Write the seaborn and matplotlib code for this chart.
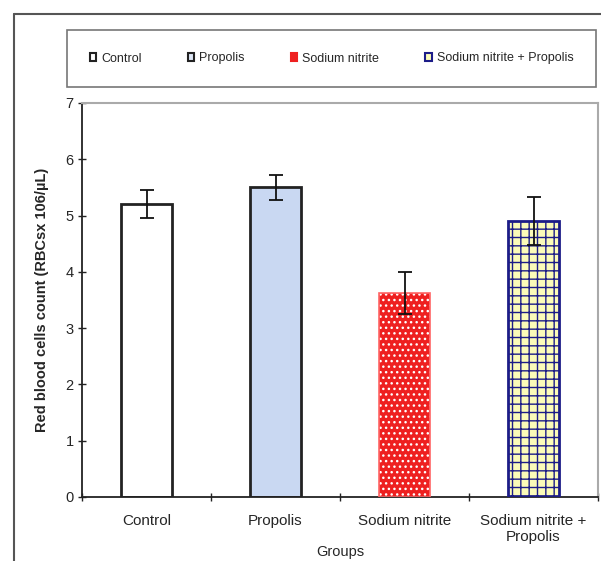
import matplotlib
matplotlib.use("Agg")
import matplotlib.pyplot as plt
import seaborn as sns
import numpy as np
import pandas as pd
from matplotlib.patches import Patch
from matplotlib.lines import Line2D

groups = ["Control", "Propolis", "Sodium nitrite", "Sodium nitrite +\nPropolis"]
legend_labels = ["Control", "Propolis", "Sodium nitrite", "Sodium nitrite + Propolis"]
values = [5.2, 5.5, 3.63, 4.9]
errors = [0.25, 0.22, 0.37, 0.43]
yticks = [0, 1, 2, 3, 4, 5, 6, 7]

face_colors = ["#ffffff", "#c9d8f2", "#ee2020", "#fbfbb8"]
edge_colors = ["#222222", "#222222", "#ff6666", "#1c1c88"]
hatches = [None, None, "...", "++"]
hatch_colors = [None, None, "#ffffff", "#1c1c88"]

sns.set_theme(style="white")
plt.rcParams["font.family"] = ["Liberation Sans", "DejaVu Sans"]
plt.rcParams["hatch.linewidth"] = 1.0

fig = plt.figure(figsize=(6.01, 5.61), dpi=100)
ax = fig.add_axes([82/601, 1-497/561, (598-82)/601, (497-103)/561])

df = pd.DataFrame({"group": groups, "value": values})
sns.barplot(data=df, x="group", y="value", ax=ax, width=0.4, errorbar=None,
            color="white", saturation=1)

for i, p in enumerate(ax.patches):
    p.set_facecolor(face_colors[i])
    if hatches[i]:
        p.set_hatch(hatches[i])
        p.set_edgecolor(hatch_colors[i])
        p.set_linewidth(0)
    else:
        p.set_edgecolor(edge_colors[i])
        p.set_linewidth(2)

# outlines for hatched bars
x = np.arange(len(groups))
for i in range(len(groups)):
    if hatches[i]:
        ax.bar(x[i], values[i], width=0.4, fill=False, edgecolor=edge_colors[i],
               linewidth=2 if i == 3 else 1.2, zorder=3)

ax.errorbar(x, values, yerr=errors, fmt="none", ecolor="#111111",
            elinewidth=1.3, capsize=5, capthick=1.3, zorder=4)

ax.set_ylim(0, 7)
ax.set_xlim(-0.5, 3.47)
ax.set_yticks(yticks)
ax.set_yticklabels([str(t) for t in yticks], fontsize=10.5)
ax.tick_params(axis="y", direction="inout", length=6, width=1, color="#222222", pad=3, left=True)
ax.set_xticks(x)
ax.set_xticklabels(groups, fontsize=11)
ax.tick_params(axis="x", which="major", length=0, pad=12)
ax.set_xticks(np.arange(-0.5, 3.6, 1.0), minor=True)
ax.tick_params(axis="x", which="minor", direction="inout", length=6, width=1, color="#222222", bottom=True)

for s in ["left", "bottom"]:
    ax.spines[s].set_color("#222222")
    ax.spines[s].set_linewidth(1.3)
for s in ["top", "right"]:
    ax.spines[s].set_color("#aaaaaa")
    ax.spines[s].set_linewidth(1.5)

ax.set_ylabel("Red blood cells count (RBCsx 106/µL)", fontsize=10.5, fontweight="bold", labelpad=12)
ax.set_xlabel("Groups", fontsize=10.5, labelpad=1)

# legend
handles = []
for i in range(len(legend_labels)):
    handles.append(Patch(facecolor=face_colors[i] if i != 1 else "#dde6f5",
                         edgecolor=edge_colors[i] if i != 2 else "#ee2020",
                         linewidth=1.5))
leg = fig.legend(handles, legend_labels, loc="lower left", mode="expand", ncol=4,
                 bbox_to_anchor=(67/601, 1-87/561, (596-67)/601, (87-29)/561),
                 fontsize=9, frameon=True, fancybox=False, handlelength=0.55,
                 handleheight=0.55, handletextpad=0.4, borderpad=1.8, borderaxespad=0)
leg.get_frame().set_edgecolor("#555555")
leg.get_frame().set_linewidth(1.2)

# outer chart frame
fig.add_artist(Line2D([14/601, 1.0], [1-14/561, 1-14/561], color="#555555", linewidth=1.5, transform=fig.transFigure))
fig.add_artist(Line2D([14/601, 14/601], [1-14/561, 0.0], color="#555555", linewidth=1.5, transform=fig.transFigure))

fig.savefig("out.png", dpi=100)
